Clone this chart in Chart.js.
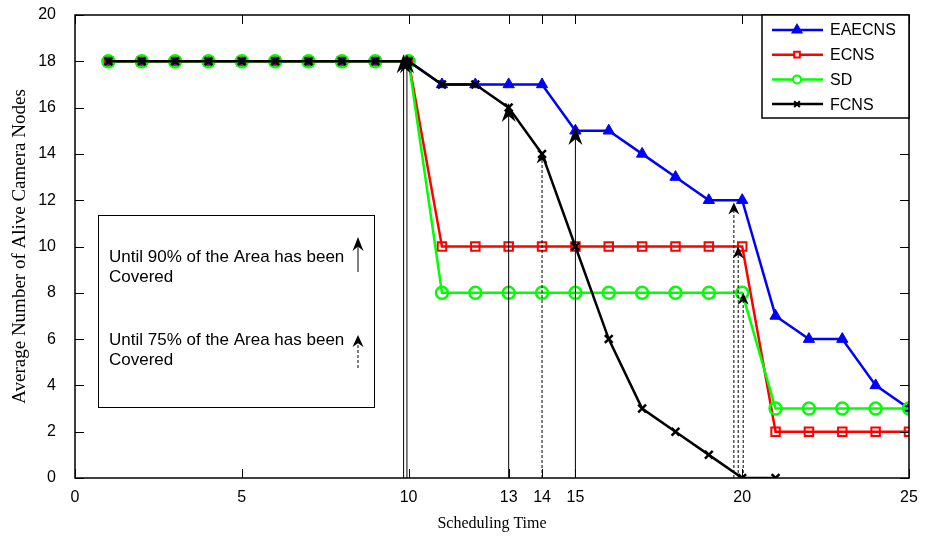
<!DOCTYPE html>
<html>
<head>
<meta charset="utf-8">
<script src="https://cdn.jsdelivr.net/npm/chart.js@4.4.1/dist/chart.umd.min.js"></script>
<style>
  html, body { margin: 0; padding: 0; background: #fff; }
  #wrap { width: 928px; height: 541px; position: relative; }
</style>
</head>
<body>
<div id="wrap"><canvas id="aliveChart"></canvas></div>
<script>
  // scheduling rounds and alive camera node counts per scheme
  const rounds = [1, 2, 3, 4, 5, 6, 7, 8, 9, 10, 11, 12, 13, 14, 15, 16, 17, 18, 19, 20, 21, 22, 23, 24, 25];
  const eaecns = [18, 18, 18, 18, 18, 18, 18, 18, 18, 18, 17, 17, 17, 17, 15, 15, 14, 13, 12, 12, 7, 6, 6, 4, 3];
  const ecns = [18, 18, 18, 18, 18, 18, 18, 18, 18, 18, 10, 10, 10, 10, 10, 10, 10, 10, 10, 10, 2, 2, 2, 2, 2];
  const sd = [18, 18, 18, 18, 18, 18, 18, 18, 18, 18, 8, 8, 8, 8, 8, 8, 8, 8, 8, 8, 3, 3, 3, 3, 3];
  const fcnsRounds = [1, 2, 3, 4, 5, 6, 7, 8, 9, 10, 11, 12, 13, 14, 15, 16, 17, 18, 19, 20, 21];
  const fcns = [18, 18, 18, 18, 18, 18, 18, 18, 18, 18, 17, 17, 16, 14, 10, 6, 3, 2, 1, 0, 0];

  const xTicks = [0, 5, 10, 13, 14, 15, 20, 25];
  const yTicks = [0, 2, 4, 6, 8, 10, 12, 14, 16, 18, 20];

  // coverage markers: 90% (solid) and 75% (dashed)
  const cover90X = [9.85, 9.95, 13, 15];
  const cover90Y = [18.3, 18.3, 16.2, 15.2];
  const cover75X = [14, 19.75, 19.88, 20.03];
  const cover75Y = [14.1, 11.9, 10, 8];

  const noteLines = [
    ["Until 90% of the Area has been", "Covered"],
    ["Until 75% of the Area has been", "Covered"]
  ];

  const SANS = '"Liberation Sans", Arial, sans-serif';
  const SERIF = '"Liberation Serif", "Times New Roman", serif';

  function pts(xs, ys) {
    return xs.map((x, i) => ({ x: x, y: ys[i] }));
  }

  function drawArrow(ctx, x, yBase, yTip, dashed, small) {
    const len = dashed ? 12 : (small ? 14 : 19);
    const w = dashed ? 11 : (small ? 11 : 14);
    ctx.save();
    ctx.strokeStyle = "#000";
    ctx.lineWidth = 1;
    ctx.setLineDash(dashed ? [3, 2] : []);
    ctx.beginPath();
    ctx.moveTo(x, yBase);
    ctx.lineTo(x, yTip + len * 0.6);
    ctx.stroke();
    ctx.setLineDash([]);
    ctx.fillStyle = "#000";
    ctx.beginPath();
    ctx.moveTo(x, yTip);
    ctx.lineTo(x - w / 2, yTip + len);
    ctx.lineTo(x, yTip + len * 0.68);
    ctx.lineTo(x + w / 2, yTip + len);
    ctx.closePath();
    ctx.fill();
    ctx.restore();
  }

  const framePlugin = {
    id: "frame",
    afterDatasetsDraw(chart) {
      const ctx = chart.ctx;
      const a = chart.chartArea;
      const xs = chart.scales.x;
      const ys = chart.scales.y;

      // arrows from the axis up to the marked points
      cover90X.forEach((v, i) => drawArrow(ctx, xs.getPixelForValue(v), a.bottom, ys.getPixelForValue(cover90Y[i]), false));
      cover75X.forEach((v, i) => drawArrow(ctx, xs.getPixelForValue(v), a.bottom, ys.getPixelForValue(cover75Y[i]), true));

      ctx.save();
      // axes box with inward ticks on all sides
      ctx.strokeStyle = "#000";
      ctx.lineWidth = 1.5;
      ctx.strokeRect(a.left, a.top, a.right - a.left, a.bottom - a.top);
      ctx.lineWidth = 1;
      ctx.beginPath();
      xTicks.forEach((v) => {
        const px = Math.round(xs.getPixelForValue(v)) + 0.5;
        ctx.moveTo(px, a.bottom); ctx.lineTo(px, a.bottom - 9);
        ctx.moveTo(px, a.top); ctx.lineTo(px, a.top + 9);
      });
      yTicks.forEach((v) => {
        const py = Math.round(ys.getPixelForValue(v)) + 0.5;
        ctx.moveTo(a.left, py); ctx.lineTo(a.left + 9, py);
        ctx.moveTo(a.right, py); ctx.lineTo(a.right - 9, py);
      });
      ctx.stroke();

      // note box on the left
      const bx = a.left + 23, by = a.top + 200, bw = 276, bh = 192;
      ctx.fillStyle = "#fff";
      ctx.fillRect(bx, by, bw, bh);
      ctx.lineWidth = 1;
      ctx.strokeRect(bx + 0.5, by + 0.5, bw, bh);
      ctx.fillStyle = "#000";
      ctx.font = "17px " + SANS;
      ctx.textAlign = "left";
      ctx.textBaseline = "middle";
      ctx.fillText(noteLines[0][0], bx + 11, by + 42);
      ctx.fillText(noteLines[0][1], bx + 11, by + 62);
      ctx.fillText(noteLines[1][0], bx + 11, by + 125);
      ctx.fillText(noteLines[1][1], bx + 11, by + 145);
      drawArrow(ctx, bx + 260, by + 57, by + 22, false, true);
      drawArrow(ctx, bx + 260, by + 153, by + 120, true);

      // legend box in the top right corner
      const lx = 762, ly = a.top, lw = a.right - 762, lh = 103;
      ctx.fillStyle = "#fff";
      ctx.fillRect(lx, ly, lw, lh);
      ctx.strokeStyle = "#000";
      ctx.lineWidth = 1.5;
      ctx.strokeRect(lx, ly, lw, lh);
      chart.data.datasets.forEach((ds, i) => {
        const yy = ly + 15 + i * 24.7;
        ctx.strokeStyle = ds.borderColor;
        ctx.lineWidth = 2.5;
        ctx.beginPath();
        ctx.moveTo(lx + 10, yy); ctx.lineTo(lx + 61, yy);
        ctx.stroke();
        ctx.fillStyle = ds.pointStyle === "triangle" ? ds.borderColor : "#fff";
        ctx.lineWidth = 2;
        Chart.helpers.drawPoint(ctx, {
          pointStyle: ds.pointStyle,
          radius: ds.pointStyle === "triangle" ? 5 : 4,
          borderWidth: 2
        }, lx + 35, yy);
        ctx.fillStyle = "#000";
        ctx.font = "16px " + SANS;
        ctx.fillText(ds.label, lx + 68, yy + 1);
      });
      ctx.restore();
    }
  };

  new Chart(document.getElementById("aliveChart"), {
    type: "line",
    data: {
      datasets: [
        {
          label: "EAECNS",
          data: pts(rounds, eaecns),
          borderColor: "#0000ff",
          backgroundColor: "#0000ff",
          pointStyle: "triangle",
          pointRadius: 6.5,
          pointBorderWidth: 1,
          order: 4
        },
        {
          label: "ECNS",
          data: pts(rounds, ecns),
          borderColor: "#ff0000",
          backgroundColor: "rgba(0,0,0,0)",
          pointStyle: "rect",
          pointRadius: 6,
          pointBorderWidth: 2,
          order: 3
        },
        {
          label: "SD",
          data: pts(rounds, sd),
          borderColor: "#00ff00",
          backgroundColor: "rgba(0,0,0,0)",
          pointStyle: "circle",
          pointRadius: 6,
          pointBorderWidth: 2.5,
          order: 2
        },
        {
          label: "FCNS",
          data: pts(fcnsRounds, fcns),
          borderColor: "#000000",
          backgroundColor: "#000000",
          pointStyle: "crossRot",
          pointRadius: 5.5,
          pointBorderWidth: 2.5,
          order: 1
        }
      ]
    },
    options: {
      responsive: true,
      maintainAspectRatio: false,
      animation: false,
      elements: { line: { borderWidth: 2.5, tension: 0 } },
      layout: { padding: { left: 0, top: 15, right: 19, bottom: 0 } },
      plugins: { legend: { display: false }, tooltip: { enabled: false } },
      scales: {
        x: {
          type: "linear",
          min: 0,
          max: 25,
          afterBuildTicks: (s) => { s.ticks = xTicks.map((v) => ({ value: v })); },
          afterFit: (s) => { s.height = 63; s.paddingLeft = 0; s.paddingRight = 0; },
          grid: { display: false, drawTicks: false },
          border: { display: false },
          ticks: { color: "#000", padding: 10, maxRotation: 0, autoSkip: false, font: { family: SANS, size: 16 } },
          title: { display: true, text: "Scheduling Time", color: "#000", padding: 8, font: { family: SERIF, size: 16 } }
        },
        y: {
          min: 0,
          max: 20,
          afterBuildTicks: (s) => { s.ticks = yTicks.map((v) => ({ value: v })); },
          afterFit: (s) => { s.width = 75; s.paddingTop = 0; s.paddingBottom = 0; },
          grid: { display: false, drawTicks: false },
          border: { display: false },
          ticks: { color: "#000", padding: 19, autoSkip: false, font: { family: SANS, size: 16 } },
          title: { display: true, text: "Average Number of Alive Camera Nodes", color: "#000", padding: 9, font: { family: SERIF, size: 19 } }
        }
      }
    },
    plugins: [framePlugin]
  });
</script>
</body>
</html>
